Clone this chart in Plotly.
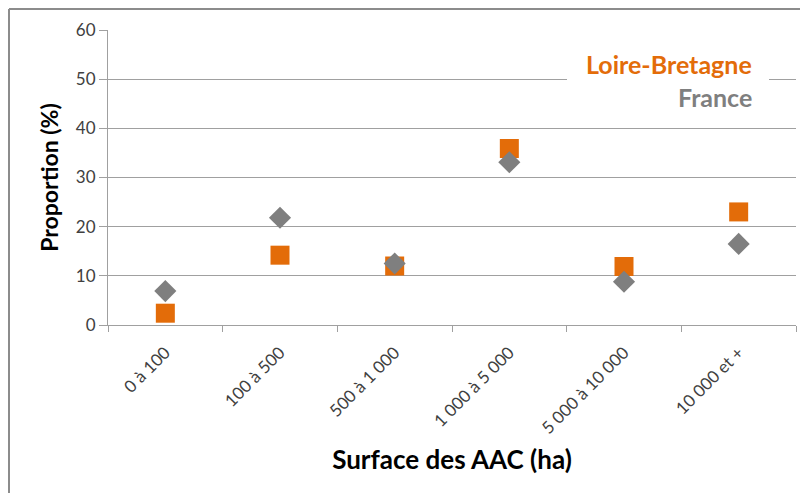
import plotly.graph_objects as go

categories = ["0 à 100", "100 à 500", "500 à 1 000", "1 000 à 5 000", "5 000 à 10 000", "10 000 et +"]
loire_bretagne = [2.4, 14.2, 12.0, 35.9, 11.9, 23.0]
france = [6.9, 21.8, 12.5, 33.1, 8.8, 16.5]
series_names = ["Loire-Bretagne", "France"]
y_ticks = [0, 10, 20, 30, 40, 50, 60]

ORANGE = "#E36C09"
GRAY = "#7F7F7F"
FONT = "Lato, Carlito, Calibri, sans-serif"

OFF = 8  # page body margin
W, H = 800, 485
L, R, T, B = 108 - OFF, 12, 30 - OFF, 168
pw, ph = W - L - R, H - T - B

def px_x(p):
    return (p - OFF - L) / pw

def px_y(p):
    return (H - B - (p - OFF)) / ph

fig = go.Figure()
fig.add_trace(go.Scatter(
    x=categories, y=loire_bretagne, mode="markers", name=series_names[0],
    marker=dict(symbol="square", size=19, color=ORANGE, line=dict(width=0)),
))
fig.add_trace(go.Scatter(
    x=categories, y=france, mode="markers", name=series_names[1],
    marker=dict(symbol="diamond", size=17, color=GRAY, line=dict(width=0)),
))

fig.update_layout(
    width=W, height=H,
    margin=dict(l=L, r=R, t=T, b=B),
    paper_bgcolor="white", plot_bgcolor="white",
    showlegend=False,
    font=dict(family=FONT, color="#404040"),
    xaxis=dict(
        type="category", range=[-0.5, 5.5], tickson="boundaries", ticks="outside", ticklen=6,
        tickcolor="#A0A0A0", showline=True, linecolor="#A0A0A0", linewidth=1,
        showgrid=False, tickangle=-45, tickfont=dict(size=17, color="#404040"),
        ticklabelstandoff=10,
        title=dict(text="<b>Surface des AAC (ha)</b>", font=dict(size=26, color="black"), standoff=14),
    ),
    yaxis=dict(
        range=[0, 60], tickvals=y_ticks, ticks="outside", ticklen=8,
        tickcolor="#A0A0A0", showline=True, linecolor="#A0A0A0", linewidth=1,
        showgrid=True, gridcolor="#A0A0A0", gridwidth=1, zeroline=False,
        tickfont=dict(size=17, color="#404040"),
        title=dict(text="<b>Proportion (%)</b>", font=dict(size=23, color="black"), standoff=10),
    ),
)

# white legend background box hiding gridline
fig.add_shape(type="rect", xref="paper", yref="paper",
              x0=px_x(567), x1=px_x(769), y0=px_y(112), y1=px_y(44),
              fillcolor="white", line=dict(width=0), layer="above")

fig.add_annotation(text="<b>" + series_names[0] + "</b>", xref="paper", yref="paper",
                   x=px_x(754), y=px_y(64), xanchor="right", yanchor="middle",
                   showarrow=False, font=dict(size=25, color=ORANGE, family=FONT))
fig.add_annotation(text="<b>" + series_names[1] + "</b>", xref="paper", yref="paper",
                   x=px_x(754), y=px_y(97), xanchor="right", yanchor="middle",
                   showarrow=False, font=dict(size=25, color=GRAY, family=FONT))

# outer chart border (left and top edges visible)
fig.add_shape(type="line", xref="paper", yref="paper",
              x0=px_x(9), x1=px_x(9), y0=px_y(9), y1=px_y(520),
              line=dict(color="#8C8C8C", width=2))
fig.add_shape(type="line", xref="paper", yref="paper",
              x0=px_x(9), x1=px_x(830), y0=px_y(9), y1=px_y(9),
              line=dict(color="#8C8C8C", width=2))

fig.write_html("out.html")
